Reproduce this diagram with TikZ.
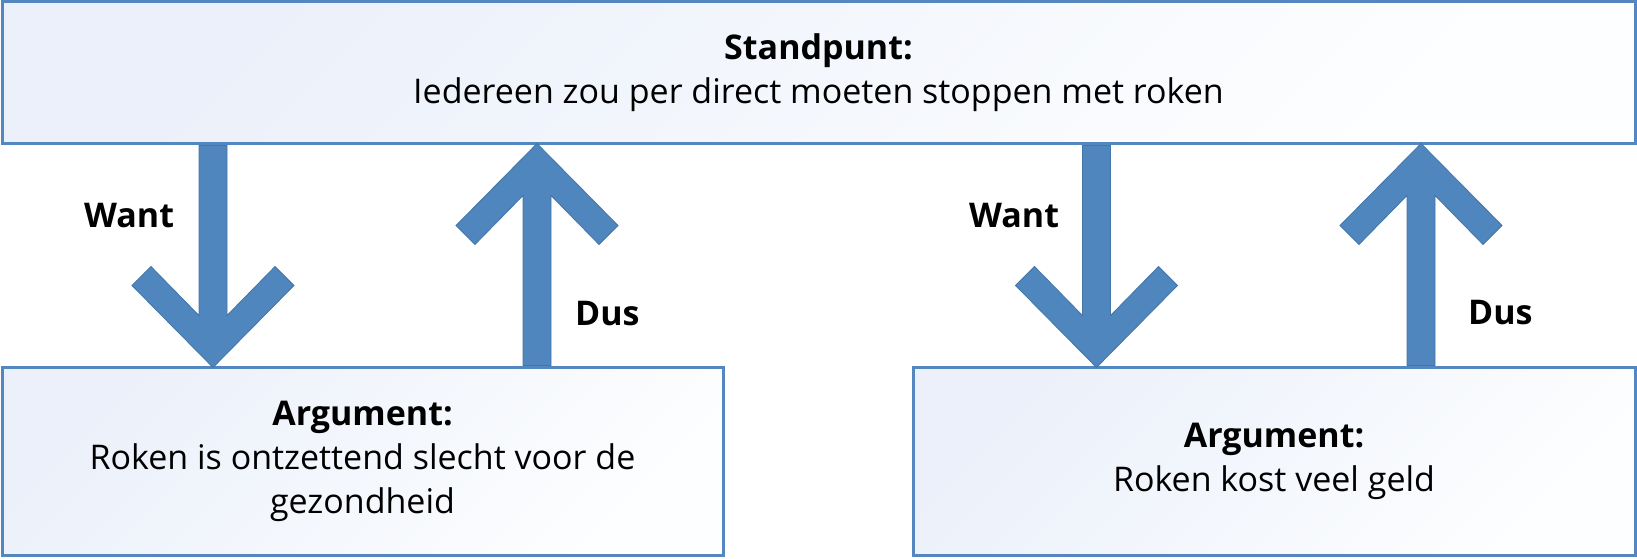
\documentclass[tikz,border=0pt]{standalone}
\usepackage{fontspec}
\setmainfont{Open Sans}
\definecolor{bord}{RGB}{84,134,192}
\definecolor{arrfill}{RGB}{79,134,189}
\definecolor{arrline}{RGB}{68,118,168}
\definecolor{gradA}{RGB}{235,240,250}
\definecolor{gradB}{RGB}{253,254,255}
\begin{document}
\begin{tikzpicture}[x=1pt,y=1pt,
  box/.style={draw=bord, line width=3pt, top color=gradA, bottom color=gradB,
    shading angle=45, inner sep=0pt, align=center,
    font=\fontsize{34pt}{44pt}\selectfont},
  lbl/.style={font=\bfseries\fontsize{34pt}{40pt}\selectfont, inner sep=0pt, anchor=base west},
  pics/blockarrow/.style={code={
    \path[draw=arrline, line width=0.8pt, fill=arrfill, line join=miter]
      (-14,0) -- (-14,170) -- (-62,121) -- (-81,140) -- (0,222) -- (81,140)
      -- (62,121) -- (14,170) -- (14,0) -- cycle;}}
]
\useasboundingbox (0,0) rectangle (1637,558);
\node[box, minimum width=1633pt, minimum height=142pt] (top) at (818.5,485)
  {\textbf{Standpunt:}\\Iedereen zou per direct moeten stoppen met roken};
\node[box, minimum width=721pt, minimum height=188pt] (argl) at (362.5,97)
  {\textbf{Argument:}\\Roken is ontzettend slecht voor de\\gezondheid};
\node[box, minimum width=722pt, minimum height=188pt] (argr) at (1274,97)
  {\textbf{Argument:}\\Roken kost veel geld};
\coordinate (xa) at (213,0);
\coordinate (xb) at (537,0);
\coordinate (xc) at (1096.5,0);
\coordinate (xd) at (1421,0);
\pic[rotate=180] at (top.south -| xa) {blockarrow};
\pic at (argl.north -| xb) {blockarrow};
\pic[rotate=180] at (top.south -| xc) {blockarrow};
\pic at (argr.north -| xd) {blockarrow};
\node[lbl] (want1) at (84,331) {Want};
\node[lbl] (dus1) at (575,233) {Dus};
\node[lbl] (want2) at (969,331) {Want};
\node[lbl] (dus2) at (1468,234) {Dus};
\end{tikzpicture}
\end{document}
